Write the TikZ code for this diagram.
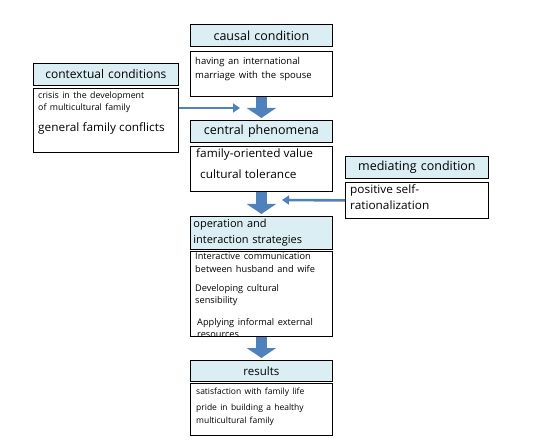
\documentclass[tikz,border=0pt]{standalone}
\usepackage{fontspec}
\setmainfont{Open Sans}
\newfontfamily\headfont[WordSpace=1.5]{Open Sans}
\newfontfamily\notefont[WordSpace=1.5]{Open Sans}
\newfontfamily\bodyfont[FakeStretch=1.03]{Open Sans}
\usetikzlibrary{arrows.meta}
\definecolor{headfill}{HTML}{DAEEF3}
\definecolor{arrowblue}{HTML}{4F81BD}
\tikzstyle{head} = [draw, fill=headfill, line width=0.8pt, anchor=north west, inner sep=0pt, minimum width=142pt, minimum height=22pt, text width=136pt, align=center, font=\headfont\fontsize{12.5}{14}\selectfont]
\tikzstyle{body} = [draw, line width=0.8pt, anchor=north west, inner sep=0pt, minimum width=142pt]
\tikzstyle{note} = [anchor=north west, inner sep=0pt, align=left, font=\notefont\fontsize{9.2}{12.5}\selectfont]
\tikzstyle{main} = [anchor=north west, inner sep=0pt, align=left, font=\bodyfont\fontsize{11.5}{16}\selectfont]
\tikzstyle{flow} = [arrowblue, line width=11pt, shorten >=2pt, -{Triangle[width=29pt,length=10pt]}]
\tikzstyle{feed} = [arrowblue, line width=2.6pt, -{Triangle[width=9pt,length=7pt]}]

\begin{document}
\begin{tikzpicture}[x=1pt,y=-1pt]
\useasboundingbox (0,0) rectangle (543,443);

% centre column
\node[head] (causalhead) at (190,24) {causal condition};
\node[body, minimum height=45pt] (causalbody) at (190,51) {};
\node[note, font=\notefont\fontsize{9.5}{14}\selectfont] (causaltext) at (195,57) {having an international\\marriage with the spouse};

\node[head] (centralhead) at (190,120) {central phenomena};
\node[body, minimum height=45pt] (centralbody) at (190,146) {};
\node[main, font=\bodyfont\fontsize{11.5}{21}\selectfont] (centraltext) at (196,149) {family-oriented value\\\hspace{4pt}cultural tolerance};

\node[head, minimum height=33pt, align=left, font=\fontsize{11}{16}\selectfont] (ophead) at (190,216) {operation and\\interaction strategies};
\node[body, minimum height=85pt] (opbody) at (190,251) {};
\node[note] (optexta) at (195,253) {Interactive communication\\between husband and wife};
\node[note] (optextb) at (195,284) {Developing cultural\\sensibility};
\node[note] (optextc) at (197,318) {Applying informal external\\resources};

\node[head, minimum height=21pt, font=\fontsize{11.5}{14}\selectfont] (resulthead) at (190,360) {results};
\node[body, minimum height=52pt] (resultbody) at (190,383) {};
\node[note, font=\notefont\fontsize{8.5}{13}\selectfont] (resulttexta) at (196,388) {satisfaction with family life};
\node[note, font=\notefont\fontsize{8.5}{13}\selectfont] (resulttextb) at (196,404) {pride in building a healthy\\multicultural family};

% side boxes
\node[head, minimum width=145pt, text width=139pt, font=\headfont\fontsize{12}{14}\selectfont] (contexthead) at (33,63) {contextual conditions};
\node[body, minimum width=145pt, minimum height=64pt] (contextbody) at (33,88) {};
\node[note, font=\notefont\fontsize{8.8}{11.5}\selectfont] (contextnote) at (38,92) {crisis in the development\\of multicultural family};
\node[main] (contextmain) at (38,123) {general family conflicts};

\node[head, minimum width=143pt, text width=137pt] (mediatinghead) at (345,156) {mediating condition};
\node[body, minimum width=143pt, minimum height=36pt] (mediatingbody) at (345,182) {};
\node[main] (mediatingtext) at (350,185) {positive self-\\rationalization};

% arrows
\draw[flow] (causalbody) -- (centralhead);
\draw[flow] (centralbody) -- (ophead);
\draw[flow] (opbody) -- (resulthead);

\coordinate (contexttip) at (240,108);
\draw[feed] (contextbody.east |- contexttip) -- (contexttip);
\coordinate (mediatingtip) at (282,200);
\draw[feed] (mediatingbody.west) -- (mediatingtip);
\end{tikzpicture}
\end{document}
